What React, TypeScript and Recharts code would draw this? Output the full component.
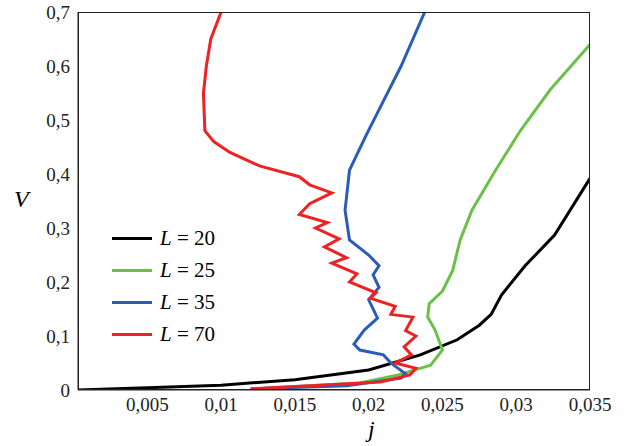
import { LineChart, Line, XAxis, YAxis } from 'recharts';

const xTicks = [0.005, 0.01, 0.015, 0.02, 0.025, 0.03, 0.035];
const yTicks = [0, 0.1, 0.2, 0.3, 0.4, 0.5, 0.6, 0.7];

// [j, V] pairs
const l20: [number, number][] = [
  [0.0003, 0], [0.005, 0.004], [0.01, 0.009], [0.015, 0.019], [0.02, 0.037], [0.0235, 0.065],
  [0.026, 0.093], [0.0275, 0.12], [0.0283, 0.14], [0.029, 0.176], [0.0306, 0.23], [0.0326, 0.287], [0.035, 0.392],
];
const l25: [number, number][] = [
  [0.012, 0.002], [0.0194, 0.013], [0.022, 0.028], [0.0242, 0.046], [0.025, 0.074], [0.0245, 0.111],
  [0.024, 0.135], [0.0241, 0.16], [0.025, 0.183], [0.0257, 0.222], [0.0262, 0.278], [0.027, 0.333],
  [0.0286, 0.407], [0.0303, 0.481], [0.0323, 0.556], [0.035, 0.64],
];
const l35: [number, number][] = [
  [0.012, 0.002], [0.0185, 0.008], [0.0222, 0.022], [0.0225, 0.03], [0.0215, 0.05], [0.021, 0.065],
  [0.0194, 0.074], [0.019, 0.085], [0.0197, 0.111], [0.0206, 0.133], [0.02, 0.167], [0.0207, 0.19],
  [0.0203, 0.213], [0.0207, 0.23], [0.02, 0.25], [0.0187, 0.278], [0.0184, 0.333], [0.0187, 0.407],
  [0.0198, 0.47], [0.0209, 0.53], [0.0222, 0.6], [0.0238, 0.7],
];
const l70: [number, number][] = [
  [0.012, 0.002], [0.0208, 0.015], [0.0228, 0.028], [0.0232, 0.04], [0.0218, 0.05], [0.0229, 0.065],
  [0.0224, 0.08], [0.0232, 0.1], [0.0225, 0.11], [0.023, 0.135], [0.0215, 0.14], [0.0218, 0.155],
  [0.0201, 0.17], [0.0205, 0.18], [0.0187, 0.2], [0.0192, 0.215], [0.0175, 0.235], [0.0185, 0.245],
  [0.017, 0.265], [0.018, 0.28], [0.0164, 0.3], [0.0172, 0.31], [0.0153, 0.325], [0.016, 0.345],
  [0.0175, 0.365], [0.016, 0.38], [0.0153, 0.395], [0.0126, 0.415], [0.0106, 0.44], [0.0095, 0.46],
  [0.0089, 0.48], [0.0088, 0.55], [0.009, 0.6], [0.0093, 0.65], [0.01, 0.7],
];

const toData = (pts: [number, number][]) => pts.map(([j, v]) => ({ j, v }));

const series = [
  { name: '20', color: '#000000', pts: l20 },
  { name: '25', color: '#6cc04a', pts: l25 },
  { name: '35', color: '#2a5cb8', pts: l35 },
  { name: '70', color: '#ee2222', pts: l70 },
];

const fmt = (v: number) => String(v).replace('.', ',');
const font = 'Liberation Serif, DejaVu Serif, serif';
const tick = { fontSize: 19, fill: '#222', fontFamily: font };

export default function App() {
  return (
    <div style={{ position: 'absolute', left: 0, top: 0, width: 628, height: 446, background: '#fff', fontFamily: font }}>
      <LineChart width={628} height={446} margin={{ top: 12, right: 38, left: 18, bottom: 26 }}>
        <XAxis type="number" dataKey="j" domain={[0.0003, 0.035]} ticks={xTicks} tickFormatter={fmt}
          allowDataOverflow tick={tick} tickLine={false} height={30} stroke="#222" />
        <YAxis type="number" domain={[0, 0.7]} ticks={yTicks} tickFormatter={fmt} allowDataOverflow
          tick={tick} tickLine={false} width={60} stroke="#222" />
        {series.map(s => (
          <Line key={s.name} data={toData(s.pts)} dataKey="v" type="linear"
            stroke={s.color} strokeWidth={3} dot={false} isAnimationActive={false} />
        ))}
      </LineChart>
      <div style={{ position: 'absolute', left: 78, top: 12, width: 512, height: 378, border: '1px solid #222', boxSizing: 'border-box', pointerEvents: 'none' }} />
      <div style={{ position: 'absolute', left: 14, top: 186, fontStyle: 'italic', fontSize: 24 }}>V</div>
      <div style={{ position: 'absolute', left: 368, top: 416, fontStyle: 'italic', fontSize: 24 }}>j</div>
      <div style={{ position: 'absolute', left: 112, top: 222, fontSize: 21 }}>
        {series.map(s => (
          <div key={s.name} style={{ display: 'flex', alignItems: 'center', height: 32 }}>
            <div style={{ width: 40, height: 3, background: s.color, marginRight: 8 }} />
            <span><i>L</i> = {s.name}</span>
          </div>
        ))}
      </div>
    </div>
  );
}
